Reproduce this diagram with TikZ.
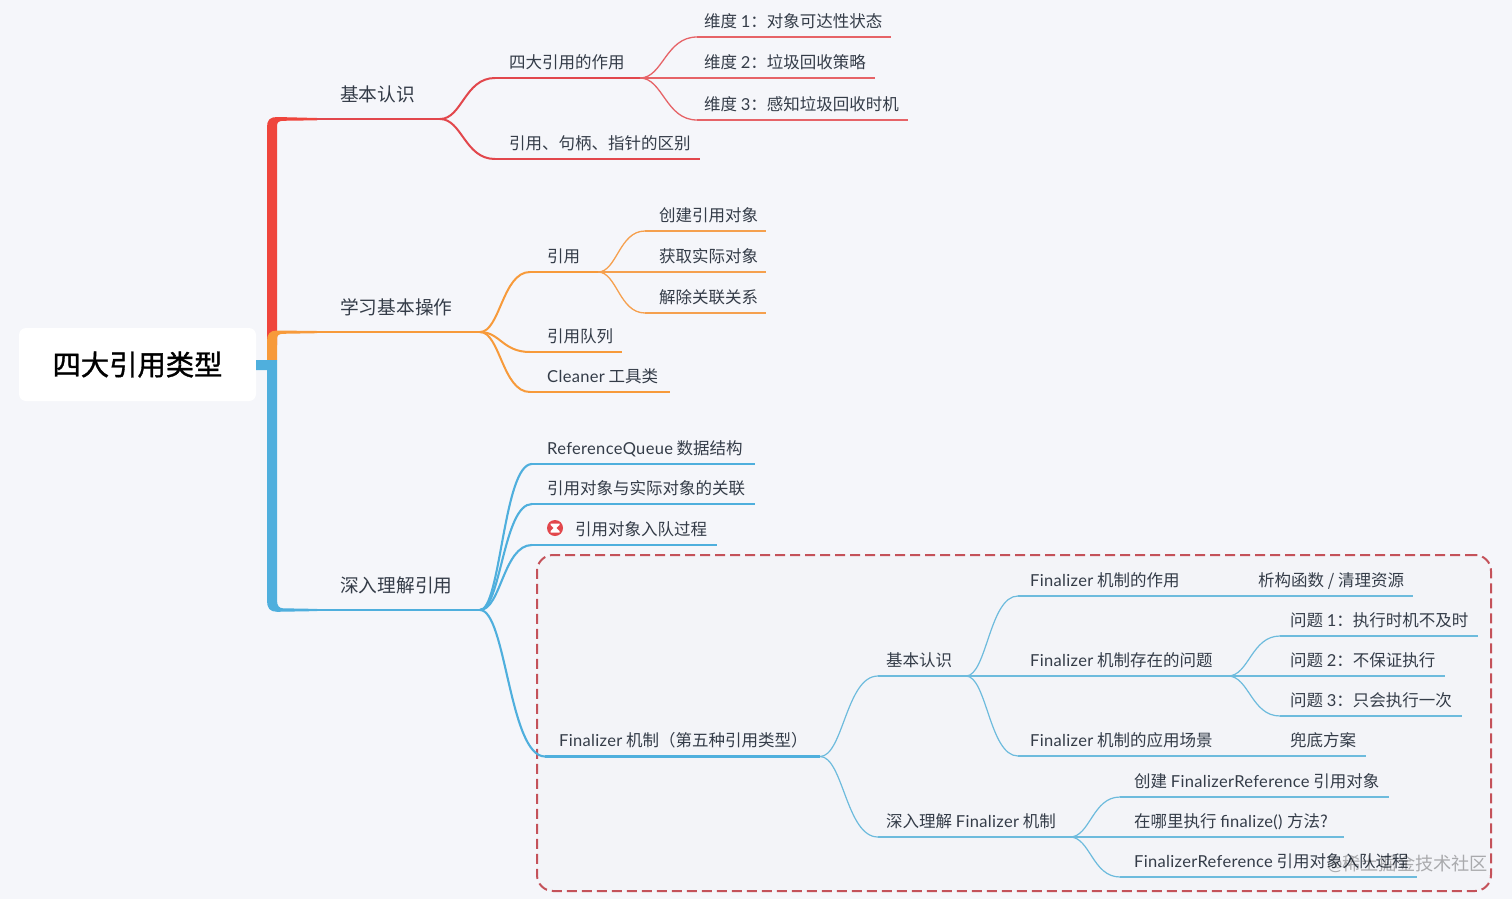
\documentclass[tikz,border=0pt]{standalone}
\usepackage{fontspec}
\setmainfont{Noto Sans CJK SC}
\newfontfamily\la[LetterSpace=2]{Lato}
\newfontfamily\rootfont[FakeBold=1.2]{Noto Sans CJK SC}
\usetikzlibrary{calc}
\definecolor{bgc}{HTML}{F5F6FA}
\definecolor{txtc}{HTML}{343C48}
\definecolor{redc}{HTML}{EF453C}
\definecolor{redl}{HTML}{E2474C}
\definecolor{orac}{HTML}{F79A3A}
\definecolor{oral}{HTML}{F5A04E}
\definecolor{bluc}{HTML}{4FAFDD}
\definecolor{blul}{HTML}{6DBBDD}
\definecolor{dashc}{HTML}{C4525A}
\tikzset{
  lbl/.style={inner sep=0pt,text=txtc,font=\fontsize{16.5}{18}\selectfont},
  lblbig/.style={inner sep=0pt,text=txtc,font=\fontsize{18.7}{20}\selectfont},
  redtwo/.style={draw=redl,line width=2pt},
  redone/.style={draw=redl!85!white,line width=1.3pt},
  oratwo/.style={draw=orac,line width=2pt},
  oraone/.style={draw=oral,line width=1.3pt},
  blutwo/.style={draw=bluc,line width=2.1pt},
  bluone/.style={draw=blul,line width=1.2pt},
}
\newcommand{\topic}[7]{%
  \coordinate (#1-s) at (#2,#4);
  \coordinate (#1-e) at (#3,#4);
  \draw[#6] (#1-s) -- (#1-e);
  \node[lbl,anchor=base west] (#1) at (#5,{#4-9.6}) {#7};
}
\newcommand{\topicbig}[7]{%
  \coordinate (#1-s) at (#2,#4);
  \coordinate (#1-e) at (#3,#4);
  \draw[#6] (#1-s) -- (#1-e);
  \node[lblbig,anchor=base west] (#1) at (#5,{#4-18}) {#7};
}
\newcommand{\link}[3]{%
  \draw[#3] (#1-e) .. controls ($(#1-e)!.4!(#2-s |- #1-e)$) and ($(#2-s)!.55!(#1-e |- #2-s)$) .. (#2-s);
}
\begin{document}
\begin{tikzpicture}[x=1pt,y=-1pt]
\useasboundingbox (0,0) rectangle (1512,899);
\fill[bgc] (0,0) rectangle (1512,899);

% dashed frame
\node[draw=dashc,fill=black!1!bgc,dash pattern=on 10pt off 5pt,line width=2pt,rounded corners=16pt,minimum width=954pt,minimum height=336pt,inner sep=0pt] (frame) at (1014,723) {};

% root
\node[fill=white,rounded corners=7pt,minimum width=237pt,minimum height=73pt,inner sep=0pt,text=black,font=\fontsize{28.3}{30}\selectfont\rootfont] (root) at (137.5,364.5) {四大引用类型};

% trunks
\fill[redc] (267,345) -- (267,127) .. controls (267,120) and (270,117) .. (277,117) -- (317,118) -- (317,120.3) -- (283,120.8) .. controls (279,121) and (277,122) .. (277,126) -- (277,345) -- cycle;
\fill[orac] (267,360) -- (267,341) .. controls (267,334) and (270,330.5) .. (277,330.5) -- (317,331) -- (317,333.2) -- (283,333.8) .. controls (279,334) and (277,335) .. (277,339) -- (277,360) -- cycle;
\fill[bluc] (root.east |- 0,360) -- (277,360) -- (277,600) .. controls (277,606) and (279,608) .. (283,608.3) -- (317,608.9) -- (317,611.1) -- (277,611.8) .. controls (270,611.8) and (267,608) .. (267,601) -- (267,370) -- (root.east |- 0,370) -- cycle;

% red branch
\topicbig{ji}{316}{440}{119}{340}{redtwo}{基本认识}
\topic{zy}{495}{640}{78}{509}{redtwo}{四大引用的作用}
\topic{qb}{495}{700}{159}{509}{redtwo}{引用、句柄、指针的区别}
\link{ji}{zy}{redtwo}
\link{ji}{qb}{redtwo}
\topic{wa}{697}{891}{37}{704}{redone}{维度 {\la 1}：对象可达性状态}
\topic{wb}{640}{875}{78}{704}{redone}{维度 {\la 2}：垃圾回收策略}
\topic{wc}{697}{908}{120}{704}{redone}{维度 {\la 3}：感知垃圾回收时机}
\link{zy}{wa}{redone}
\link{zy}{wc}{redone}

% orange branch
\topicbig{xx}{316}{480}{332}{340}{oratwo}{学习基本操作}
\topic{yy}{530}{598}{272}{547}{oratwo}{引用}
\topic{dl}{530}{622}{352}{547}{oratwo}{引用队列}
\topic{cl}{530}{670}{392}{547}{oratwo}{{\la Cleaner} 工具类}
\link{xx}{yy}{oratwo}
\link{xx}{dl}{oratwo}
\link{xx}{cl}{oratwo}
\topic{oa}{645}{766}{231}{659}{oraone}{创建引用对象}
\topic{ob}{598}{766}{272}{659}{oraone}{获取实际对象}
\topic{oc}{645}{766}{313}{659}{oraone}{解除关联关系}
\link{yy}{oa}{oraone}
\link{yy}{oc}{oraone}

% blue branch
\topicbig{sr}{316}{480}{610}{340}{blutwo}{深入理解引用}
\topic{rq}{532}{755}{464}{547}{blutwo}{{\la ReferenceQueue} 数据结构}
\topic{gl}{532}{755}{504}{547}{blutwo}{引用对象与实际对象的关联}
\topic{rd}{532}{717}{545}{575}{blutwo}{引用对象入队过程}
\topic{fz}{545}{820}{756.5}{559}{blutwo}{{\la Finalizer} 机制（第五种引用类型）}
\link{sr}{rq}{blutwo}
\link{sr}{gl}{blutwo}
\link{sr}{rd}{blutwo}
\link{sr}{fz}{blutwo}
\node[circle,fill=redl,minimum size=16pt,inner sep=0pt] (icon) at (555,528) {};
\fill[white] (550.5,523.5) -- (559.5,523.5) -- (559.5,525) -- (556.3,528) -- (559.5,531) -- (559.5,532.5) -- (550.5,532.5) -- (550.5,531) -- (553.7,528) -- (550.5,525) -- cycle;

% finalizer sub-tree
\topic{fa}{878}{966}{676}{886}{bluone}{基本认识}
\topic{fb}{878}{1070}{837}{886}{bluone}{深入理解 {\la Finalizer} 机制}
\link{fz}{fa}{bluone}
\link{fz}{fb}{bluone}
\topic{ga}{1018}{1245}{596}{1030}{bluone}{{\la Finalizer} 机制的作用}
\topic{gb}{966}{1228}{676}{1030}{bluone}{{\la Finalizer} 机制存在的问题}
\topic{gc}{1018}{1280}{756}{1030}{bluone}{{\la Finalizer} 机制的应用场景}
\link{fa}{ga}{bluone}
\link{fa}{gc}{bluone}
\topic{ha}{1245}{1413}{596}{1258}{bluone}{析构函数 / 清理资源}
\topic{hb}{1280}{1478}{636}{1290}{bluone}{问题 {\la 1}：执行时机不及时}
\topic{hc}{1228}{1445}{676}{1290}{bluone}{问题 {\la 2}：不保证执行}
\topic{hd}{1280}{1462}{716}{1290}{bluone}{问题 {\la 3}：只会执行一次}
\link{gb}{hb}{bluone}
\link{gb}{hd}{bluone}
\topic{he}{1280}{1366}{756}{1290}{bluone}{兜底方案}
\topic{ia}{1120}{1389}{797}{1134}{bluone}{创建 {\la FinalizerReference} 引用对象}
\topic{ib}{1070}{1344}{837}{1134}{bluone}{在哪里执行 {\la finalize() }方法?}
\topic{ic}{1120}{1417}{877}{1134}{bluone}{{\la FinalizerReference} 引用对象入队过程}
\link{fb}{ia}{bluone}
\link{fb}{ic}{bluone}

% watermark
\node[anchor=base west,inner sep=0pt,text=black,opacity=.3,font=\fontsize{18.2}{20}\selectfont] (wm) at (1327,870) {{\la @}稀土掘金技术社区};
\end{tikzpicture}
\end{document}
